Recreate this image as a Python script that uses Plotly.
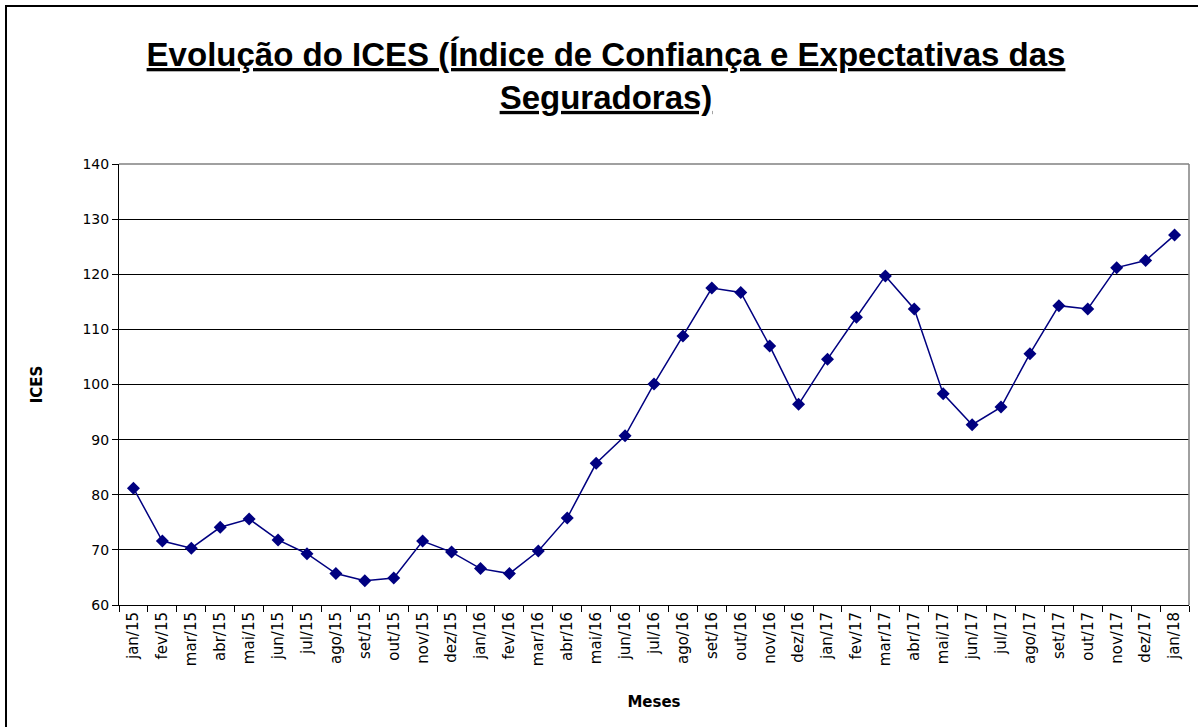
import plotly.graph_objects as go

months = ["jan/15","fev/15","mar/15","abr/15","mai/15","jun/15","jul/15","ago/15","set/15","out/15","nov/15","dez/15",
          "jan/16","fev/16","mar/16","abr/16","mai/16","jun/16","jul/16","ago/16","set/16","out/16","nov/16","dez/16",
          "jan/17","fev/17","mar/17","abr/17","mai/17","jun/17","jul/17","ago/17","set/17","out/17","nov/17","dez/17",
          "jan/18"]
ices = [81.2, 71.6, 70.3, 74.1, 75.6, 71.8, 69.3, 65.7, 64.4, 64.9, 71.6, 69.6,
        66.6, 65.7, 69.8, 75.8, 85.7, 90.7, 100.1, 108.8, 117.5, 116.7, 107.0, 96.4,
        104.6, 112.2, 119.7, 113.7, 98.3, 92.7, 95.9, 105.6, 114.3, 113.7, 121.2, 122.5,
        127.1]
y_ticks = [60, 70, 80, 90, 100, 110, 120, 130, 140]

W, H = 1198, 727
L, R, T, B = 119, 9, 164, 122
pw, ph = W - L - R, H - T - B

fig = go.Figure()
fig.add_trace(go.Scatter(
    x=months, y=ices, mode="lines+markers",
    line=dict(color="#000080", width=1.5),
    marker=dict(symbol="diamond", size=10, color="#000080"),
    showlegend=False, hoverinfo="x+y"))

fig.update_layout(
    width=W, height=H,
    margin=dict(l=L, r=R, t=T, b=B),
    paper_bgcolor="white", plot_bgcolor="white",
    title=dict(
        text="<b><u>Evolução do ICES (Índice de Confiança e Expectativas das</u></b><br><b><u>Seguradoras)</u></b>",
        x=606 / W, xanchor="center", y=1 - 66 / H, yanchor="middle",
        font=dict(family="Liberation Sans, Arial", size=33, color="black")),
    font=dict(family="DejaVu Sans, Verdana", color="black"),
    xaxis=dict(
        type="category", range=[-0.5, len(months) - 0.5],
        tickangle=-90, tickson="boundaries", ticks="outside", ticklen=6,
        tickcolor="black", tickwidth=1,
        showline=True, linecolor="black", linewidth=1, mirror=False,
        showgrid=False, tickfont=dict(size=15, family="DejaVu Sans, Verdana"),
        title=dict(text="<b>Meses</b>", font=dict(size=15, family="DejaVu Sans, Verdana"), standoff=31),
        fixedrange=True),
    yaxis=dict(
        range=[60, 140], tickvals=y_ticks, ticks="outside", ticklen=6,
        tickcolor="black", showline=True, linecolor="black", linewidth=1,
        showgrid=True, gridcolor="black", gridwidth=1, zeroline=False,
        tickfont=dict(size=14, family="DejaVu Sans, Verdana"),
        title=dict(text="<b>ICES</b>", font=dict(size=15, family="DejaVu Sans, Verdana"), standoff=36),
        fixedrange=True),
)

# top and right plot-area borders (gray)
fig.add_shape(type="line", xref="paper", yref="paper", x0=0, x1=1, y0=1, y1=1,
              line=dict(color="#808080", width=1.5))
fig.add_shape(type="line", xref="paper", yref="paper", x0=1, x1=1, y0=0, y1=1,
              line=dict(color="#808080", width=1.5))
# outer chart border (top and left visible)
fig.add_shape(type="rect", xref="paper", yref="paper",
              x0=(6 - L) / pw, x1=(W + 10 - L) / pw,
              y0=-(H + 10 - T - ph) / ph, y1=(H - 6 - B) / ph,
              line=dict(color="black", width=2), fillcolor="rgba(0,0,0,0)", layer="above")

fig.write_html("out.html", config={"displayModeBar": False},
               post_script="document.body.style.margin='0';document.body.style.overflow='hidden';")
